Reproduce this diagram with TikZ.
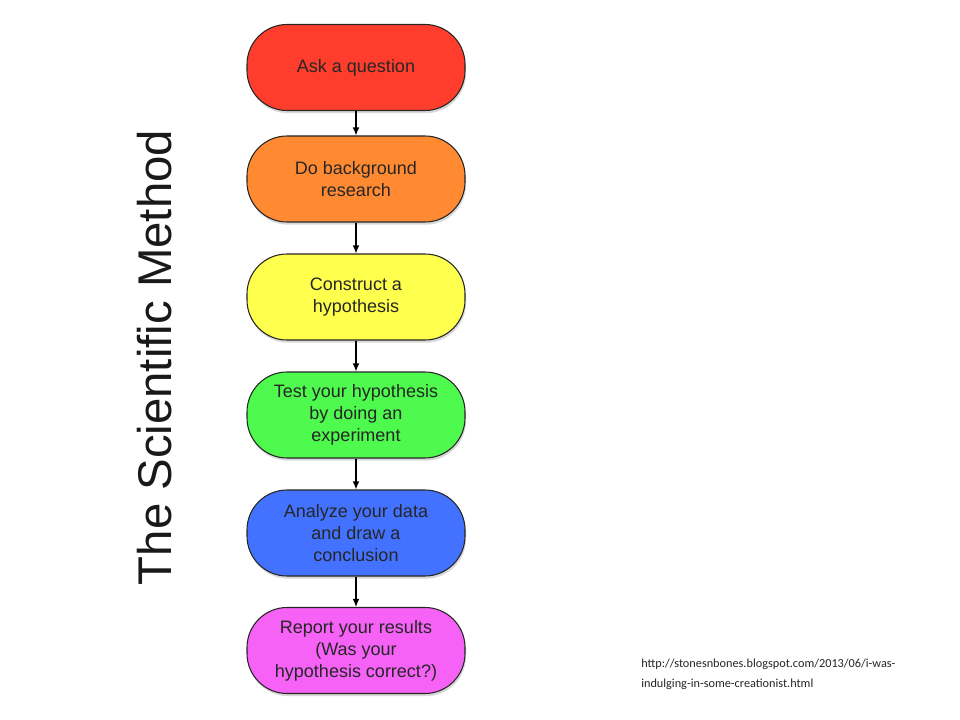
\documentclass[tikz,border=0pt]{standalone}
\usepackage{fontspec}
\setmainfont{Liberation Sans}
\newfontfamily\urlfont{Carlito}
\usetikzlibrary{shadows,arrows.meta}
\definecolor{cred}{RGB}{255,61,45}
\definecolor{corange}{RGB}{255,138,50}
\definecolor{cyellow}{RGB}{255,255,77}
\definecolor{cgreen}{RGB}{77,250,77}
\definecolor{cblue}{RGB}{66,114,255}
\definecolor{cmagenta}{RGB}{245,98,245}
\tikzset{
  stepbox/.style={draw=black!85, line width=0.8pt, rectangle, rounded corners=30pt,
    minimum width=163.5pt, minimum height=64.5pt, align=center, inner sep=2pt,
    font=\fontsize{13.5}{16.5}\selectfont, text=black!85,
    drop shadow={shadow xshift=0.8pt, shadow yshift=-2pt, opacity=0.3}},
  arr/.style={draw=black, line width=0.9pt, -{Latex[length=6pt,width=5pt]}},
  urltext/.style={anchor=base west, inner sep=0pt, font=\urlfont\fontsize{9.2}{13}\selectfont, text=black!85}
}
\begin{document}
\begin{tikzpicture}[x=0.75pt,y=-0.75pt]
\useasboundingbox[fill=white] (0,0) rectangle (960,720);
\node[stepbox, fill=cred] (b1) at (356,67.5) {Ask a question};
\node[stepbox, fill=corange] (b2) at (356,179) {Do background\\research};
\node[stepbox, fill=cyellow] (b3) at (356,297) {Construct a\\hypothesis};
\node[stepbox, fill=cgreen] (b4) at (356,415) {Test your hypothesis\\by doing an\\experiment};
\node[stepbox, fill=cblue] (b5) at (356,533) {Analyze your data\\and draw a\\conclusion};
\node[stepbox, fill=cmagenta] (b6) at (356,650.5) {Report your results\\(Was your\\hypothesis correct?)};
\draw[arr] (b1.south) -- (b2.north);
\draw[arr] (b2.south) -- (b3.north);
\draw[arr] (b3.south) -- (b4.north);
\draw[arr] (b4.south) -- (b5.north);
\draw[arr] (b5.south) -- (b6.north);
\node[rotate=90, anchor=base, inner sep=0pt, font=\fontsize{35.5}{40}\selectfont, text=black!90] (title) at (171,357.5) {The Scientific Method};
\node[urltext] (url1) at (641,667) {http://stonesnbones.blogspot.com/2013/06/i-was-};
\node[urltext] (url2) at (641,687) {indulging-in-some-creationist.html};
\end{tikzpicture}
\end{document}
